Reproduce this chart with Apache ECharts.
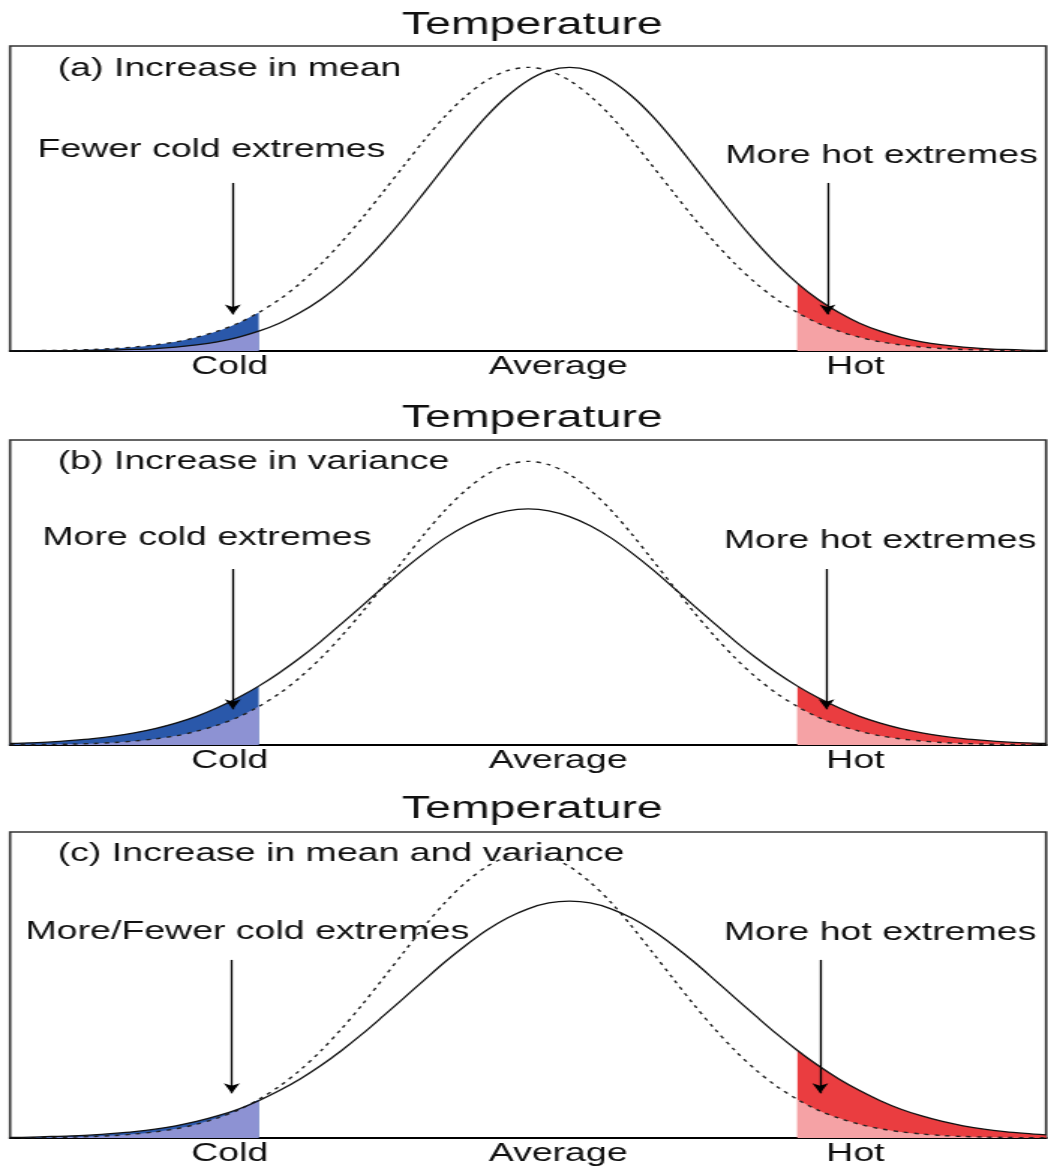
<!DOCTYPE html>
<html>
<head>
<meta charset="utf-8">
<title>Temperature</title>
<script src="https://cdn.jsdelivr.net/npm/echarts@6/dist/echarts.min.js"></script>
<style>
  html, body { margin: 0; padding: 0; background: #fff; overflow: hidden; }
  /* the figure is a horizontally stretched drawing, so draw it narrow and stretch it */
  #box { width: 699px; height: 1167px; transform: scaleX(1.4993); transform-origin: 0 0; }
</style>
</head>
<body>
<div id="box"></div>
<script>
// temperature axis (arbitrary units), read every 2 units
var temps = [-50,-48,-46,-44,-42,-40,-38,-36,-34,-32,-30,-28,-26,-24,-22,-20,-18,-16,-14,-12,-10,-8,-6,-4,-2,0,
             2,4,6,8,10,12,14,16,18,20,22,24,26,28,30,32,34,36,38,40,42,44,46,48,50];

// previous climate (dashed), same in all three panels
var oldClimate = [0.001,0.001,0.002,0.003,0.005,0.008,0.013,0.020,0.030,0.045,0.065,0.091,0.126,0.169,0.222,0.285,0.357,0.436,0.521,0.607,0.692,0.770,0.836,0.887,0.919,0.930,
                  0.919,0.887,0.836,0.770,0.692,0.607,0.521,0.436,0.357,0.285,0.222,0.169,0.126,0.091,0.065,0.045,0.030,0.020,0.013,0.008,0.005,0.003,0.002,0.001,0.001];

// new climate (solid)
var newMean = [0.000,0.000,0.001,0.001,0.002,0.003,0.005,0.008,0.013,0.020,0.030,0.045,0.065,0.091,0.126,0.169,0.222,0.285,0.357,0.436,0.521,0.607,0.692,0.770,0.836,0.887,
               0.919,0.930,0.919,0.887,0.836,0.770,0.692,0.607,0.521,0.436,0.357,0.285,0.222,0.169,0.126,0.091,0.065,0.045,0.030,0.020,0.013,0.008,0.005,0.003,0.002];
var newVariance = [0.005,0.007,0.010,0.015,0.021,0.029,0.040,0.054,0.072,0.094,0.122,0.155,0.193,0.237,0.286,0.340,0.398,0.457,0.517,0.576,0.630,0.679,0.719,0.749,0.768,0.774,
                   0.768,0.749,0.719,0.679,0.630,0.576,0.517,0.457,0.398,0.340,0.286,0.237,0.193,0.155,0.122,0.094,0.072,0.054,0.040,0.029,0.021,0.015,0.010,0.007,0.005];
var newBoth = [0.002,0.003,0.005,0.007,0.010,0.015,0.021,0.029,0.040,0.054,0.072,0.094,0.122,0.155,0.193,0.237,0.286,0.340,0.398,0.457,0.517,0.576,0.630,0.679,0.719,0.749,
               0.768,0.774,0.768,0.749,0.719,0.679,0.630,0.576,0.517,0.457,0.398,0.340,0.286,0.237,0.193,0.155,0.122,0.094,0.072,0.054,0.040,0.029,0.021,0.015,0.010];

var coldCut = -26, hotCut = 26;

var tickValues = [-28.8, 2.9, 31.6];
var tickLabels = ['Cold', 'Average', 'Hot'];

var panelNames = ['(a) Increase in mean', '(b) Increase in variance', '(c) Increase in mean and variance'];
var coldNotes = ['Fewer cold extremes', 'More cold extremes', 'More/Fewer cold extremes'];
var hotNotes = ['More hot extremes', 'More hot extremes', 'More hot extremes'];

// layout (pixels, before the stretch)
var tops = [46, 440, 832];
var heights = [305, 305, 306];
var titleY = [25, 418, 809];
var nameY = [69, 462, 854];
var coldNoteX = [141, 138, 165], coldNoteY = [150, 538, 932];
var hotNoteX = [588, 587, 587], hotNoteY = [156, 541, 933];
// arrows in data space
var coldArrowX = [-28.5, -28.5, -28.6], hotArrowX = [28.9, 28.8, 28.2];
var arrowTop = [0.551, 0.577, 0.582], arrowTip = [0.12, 0.117, 0.146];

var darkBlue = '#2a58aa', lightBlue = '#8d92d3';
var red = '#ea3d40', pink = '#f5a2a5';
var font = '"Liberation Sans", Arial, Helvetica, sans-serif';

function pairs(vals) {
    var out = [];
    for (var i = 0; i < temps.length; i++) out.push([temps[i], vals[i]]);
    return out;
}

// part of the tail: keep(x) picks the points, pick(a, b) the upper or lower curve
function tail(newCurve, keep, pick) {
    var out = [];
    for (var i = 0; i < temps.length; i++) {
        if (keep(temps[i])) out.push([temps[i], pick(oldClimate[i], newCurve[i])]);
    }
    return out;
}

function isCold(x) { return x <= coldCut; }
function isHot(x) { return x >= hotCut; }

var curves = [newMean, newVariance, newBoth];
var grids = [], xAxes = [], yAxes = [], series = [], graphics = [];

for (var p = 0; p < 3; p++) {
    grids.push({
        left: 6.7, right: 1.3, top: tops[p], height: heights[p],
        show: true, borderColor: '#333', borderWidth: 1.6
    });
    xAxes.push({
        type: 'value', gridIndex: p, min: -50, max: 50,
        axisLine: { show: true, onZero: false, lineStyle: { color: '#000', width: 1.8 } },
        axisTick: { show: false },
        splitLine: { show: false },
        axisLabel: {
            customValues: tickValues,
            formatter: function (v) {
                for (var k = 0; k < tickValues.length; k++) {
                    if (Math.abs(tickValues[k] - v) < 0.01) return tickLabels[k];
                }
                return '';
            },
            margin: 4, fontSize: 25, color: '#111', fontFamily: font
        }
    });
    yAxes.push({ type: 'value', gridIndex: p, min: 0, max: 1, show: false });

    var c = curves[p];
    var areaBase = { type: 'line', xAxisIndex: p, yAxisIndex: p, smooth: 0.3, symbol: 'none', silent: true, lineStyle: { width: 0 } };

    series.push(Object.assign({}, areaBase, { data: tail(c, isCold, Math.max), areaStyle: { color: darkBlue, opacity: 1 } }));
    series.push(Object.assign({}, areaBase, { data: tail(c, isCold, Math.min), areaStyle: { color: lightBlue, opacity: 1 } }));
    series.push(Object.assign({}, areaBase, { data: tail(c, isHot, Math.max), areaStyle: { color: red, opacity: 1 } }));
    series.push(Object.assign({}, areaBase, { data: tail(c, isHot, Math.min), areaStyle: { color: pink, opacity: 1 } }));

    series.push({
        type: 'line', xAxisIndex: p, yAxisIndex: p, data: pairs(oldClimate),
        smooth: 0.3, symbol: 'none', silent: true,
        lineStyle: { color: '#222', width: 1.4, type: [3, 4] }
    });
    series.push({
        type: 'line', xAxisIndex: p, yAxisIndex: p, data: pairs(c),
        smooth: 0.3, symbol: 'none', silent: true,
        lineStyle: { color: '#111', width: 1.3 },
        markLine: {
            silent: true,
            symbol: ['none', 'arrow'],
            symbolSize: [8, 10],
            label: { show: false },
            lineStyle: { color: '#000', width: 1.3, type: 'solid' },
            data: [
                [{ coord: [coldArrowX[p], arrowTop[p]] }, { coord: [coldArrowX[p], arrowTip[p]] }],
                [{ coord: [hotArrowX[p], arrowTop[p]] }, { coord: [hotArrowX[p], arrowTip[p]] }]
            ]
        }
    });

    graphics.push({ type: 'text', x: 355, y: titleY[p], style: { text: 'Temperature', font: '31px ' + font, fill: '#111', align: 'center', verticalAlign: 'middle' } });
    graphics.push({ type: 'text', x: 38.5, y: nameY[p], style: { text: panelNames[p], font: '25px ' + font, fill: '#111', align: 'left', verticalAlign: 'middle' } });
    graphics.push({ type: 'text', x: coldNoteX[p], y: coldNoteY[p], style: { text: coldNotes[p], font: '25px ' + font, fill: '#111', align: 'center', verticalAlign: 'middle' } });
    graphics.push({ type: 'text', x: hotNoteX[p], y: hotNoteY[p], style: { text: hotNotes[p], font: '25px ' + font, fill: '#111', align: 'center', verticalAlign: 'middle' } });
}

var myChart = echarts.init(document.getElementById('box'));
var option = {
    animation: false,
    backgroundColor: '#fff',
    grid: grids,
    xAxis: xAxes,
    yAxis: yAxes,
    series: series,
    graphic: graphics
};
myChart.setOption(option);
</script>
</body>
</html>
